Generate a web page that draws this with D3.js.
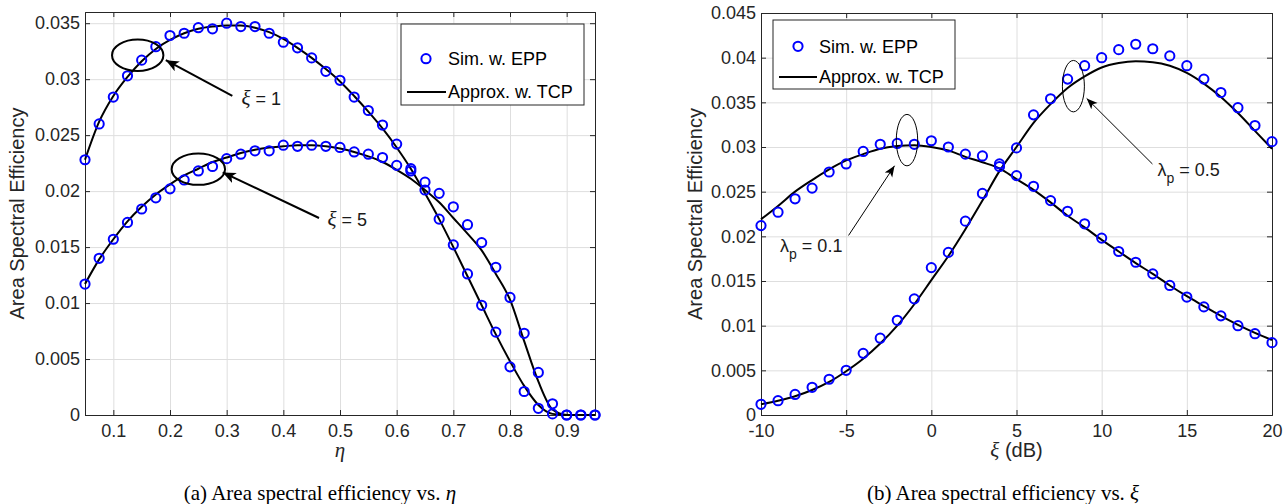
<!DOCTYPE html>
<html>
<head>
<meta charset="utf-8">
<script src="https://cdn.jsdelivr.net/npm/d3@7"></script>
<style>
    body { margin: 0; background: #fff; }
    svg text { font-family: "Liberation Sans", Arial, sans-serif; fill: #262626; }
</style>
</head>
<body>
<svg id="fig" width="1284" height="504"></svg>
<script>
/* Two-panel area spectral efficiency figure */

// ---- panel (a): ASE vs eta ----
const etaVals = [0.05, 0.075, 0.1, 0.125, 0.15, 0.175, 0.2, 0.225, 0.25, 0.275, 0.3, 0.325, 0.35, 0.375,
    0.4, 0.425, 0.45, 0.475, 0.5, 0.525, 0.55, 0.575, 0.6, 0.625, 0.65, 0.675, 0.7, 0.725, 0.75,
    0.775, 0.8, 0.825, 0.85, 0.875, 0.9, 0.925, 0.95];
const simXi1 = [0.0228, 0.0260, 0.0284, 0.0303, 0.0317, 0.0329, 0.0339, 0.0341, 0.0346, 0.0345, 0.0350,
    0.0347, 0.0347, 0.0341, 0.0333, 0.0328, 0.0319, 0.0307, 0.0299, 0.0284, 0.0272, 0.0259, 0.0242,
    0.0220, 0.0201, 0.0175, 0.0152, 0.0126, 0.0098, 0.0074, 0.0043, 0.0021, 0.0006, 0.0001, 0, 0, 0];
const simXi5 = [0.0117, 0.0140, 0.0157, 0.0172, 0.0184, 0.0194, 0.0202, 0.0210, 0.0218, 0.0222, 0.0229,
    0.0233, 0.0236, 0.0236, 0.0241, 0.0240, 0.0241, 0.0240, 0.0239, 0.0235, 0.0233, 0.0230, 0.0223,
    0.0218, 0.0208, 0.0198, 0.0186, 0.0170, 0.0154, 0.0132, 0.0105, 0.0073, 0.0038, 0.0010, 0, 0, 0];
const apxXi1 = [0.0228, 0.0262, 0.0285, 0.0302, 0.0316, 0.0327, 0.0335, 0.0341, 0.0345, 0.0347, 0.0348,
    0.0348, 0.0346, 0.0342, 0.0336, 0.0328, 0.0319, 0.0309, 0.0298, 0.0285, 0.0271, 0.0256, 0.0239,
    0.0220, 0.0198, 0.0175, 0.0150, 0.0124, 0.0098, 0.0072, 0.0048, 0.0026, 0.0009, 0.0001, 0, 0, 0];
const apxXi5 = [0.0117, 0.0139, 0.0157, 0.0173, 0.0186, 0.0197, 0.0206, 0.0214, 0.0220, 0.0226, 0.0230,
    0.0234, 0.0237, 0.0239, 0.0240, 0.0241, 0.0241, 0.0240, 0.0238, 0.0235, 0.0231, 0.0226, 0.0219,
    0.0211, 0.0201, 0.0190, 0.0176, 0.0162, 0.0147, 0.0126, 0.0103, 0.0066, 0.0030, 0.0005, 0, 0, 0];
const etaTicks = [0.1, 0.2, 0.3, 0.4, 0.5, 0.6, 0.7, 0.8, 0.9];
const aseTicksA = [0, 0.005, 0.01, 0.015, 0.02, 0.025, 0.03, 0.035];

// ---- panel (b): ASE vs xi (dB) ----
const xiVals = [-10, -9, -8, -7, -6, -5, -4, -3, -2, -1, 0, 1, 2, 3, 4, 5, 6, 7, 8, 9, 10,
    11, 12, 13, 14, 15, 16, 17, 18, 19, 20];
const simLp01 = [0.0212, 0.0227, 0.0242, 0.0254, 0.0272, 0.0281, 0.0295, 0.0303, 0.0304, 0.0303, 0.0307,
    0.0300, 0.0292, 0.0290, 0.0278, 0.0268, 0.0256, 0.0240, 0.0228, 0.0214, 0.0198, 0.0183, 0.0171,
    0.0158, 0.0145, 0.0132, 0.0121, 0.0111, 0.0100, 0.0091, 0.0081];
const simLp05 = [0.0012, 0.0016, 0.0023, 0.0031, 0.0040, 0.0050, 0.0069, 0.0086, 0.0106, 0.0130, 0.0165,
    0.0182, 0.0217, 0.0248, 0.0281, 0.0299, 0.0336, 0.0354, 0.0376, 0.0391, 0.0400, 0.0409, 0.0415,
    0.0410, 0.0402, 0.0391, 0.0376, 0.0361, 0.0344, 0.0324, 0.0306];
const apxLp01 = [0.0219, 0.0234, 0.0250, 0.0263, 0.0275, 0.0285, 0.0292, 0.0298, 0.0301, 0.0302, 0.0300,
    0.0296, 0.0289, 0.0283, 0.0276, 0.0264, 0.0252, 0.0238, 0.0223, 0.0210, 0.0196, 0.0183, 0.0170,
    0.0158, 0.0145, 0.0133, 0.0122, 0.0111, 0.0101, 0.0092, 0.0084];
const apxLp05 = [0.0012, 0.0016, 0.0021, 0.0028, 0.0037, 0.0049, 0.0063, 0.0080, 0.0100, 0.0124, 0.0151,
    0.0178, 0.0208, 0.0240, 0.0273, 0.0300, 0.0327, 0.0348, 0.0366, 0.0379, 0.0389, 0.0394, 0.0396,
    0.0395, 0.0391, 0.0383, 0.0371, 0.0356, 0.0338, 0.0318, 0.0298];
const xiTicks = [-10, -5, 0, 5, 10, 15, 20];
const aseTicksB = [0, 0.005, 0.01, 0.015, 0.02, 0.025, 0.03, 0.035, 0.04, 0.045];

const legendLabels = ['Sim. w. EPP', 'Approx. w. TCP'];

const AXIS_COLOR = '#262626';
const GRID_COLOR = '#dedede';
const SIM_COLOR = '#0000ff';
const SERIF = '"Liberation Serif", "Times New Roman", serif';

const svg = d3.select('#fig');

// arrow heads
const defs = svg.append('defs');
function addArrowHead(id, len, half) {
    defs.append('marker')
        .attr('id', id)
        .attr('markerUnits', 'userSpaceOnUse')
        .attr('markerWidth', len + 2)
        .attr('markerHeight', half * 2 + 2)
        .attr('viewBox', `0 ${-half - 1} ${len + 2} ${half * 2 + 2}`)
        .attr('refX', len)
        .attr('refY', 0)
        .attr('orient', 'auto')
        .append('path')
        .attr('d', `M0,${-half} L${len},0 L0,${half} L${len * 0.25},0 Z`)
        .attr('fill', '#000');
}
addArrowHead('headBig', 13, 5.5);
addArrowHead('headSmall', 11, 4.5);

function tickFmt(d) {
    return d === 0 ? '0' : String(+d.toFixed(3));
}

function drawPanel(cfg) {
    const width = cfg.x1 - cfg.x0;
    const height = cfg.y1 - cfg.y0;
    const g = svg.append('g').attr('transform', `translate(${cfg.x0},${cfg.y0})`);

    const x = d3.scaleLinear().domain(cfg.xDomain).range([0, width]);
    const y = d3.scaleLinear().domain(cfg.yDomain).range([height, 0]);

    // Grid
    g.append('g')
        .call(d3.axisBottom(x).tickValues(cfg.xTicks).tickSize(height).tickFormat(''))
        .call(s => s.select('.domain').remove())
        .selectAll('line').attr('stroke', GRID_COLOR);
    g.append('g')
        .call(d3.axisLeft(y).tickValues(cfg.yTicks).tickSize(-width).tickFormat(''))
        .call(s => s.select('.domain').remove())
        .selectAll('line').attr('stroke', GRID_COLOR);

    // Axes (inward ticks on all sides)
    const xb = g.append('g')
        .attr('transform', `translate(0,${height})`)
        .call(d3.axisBottom(x).tickValues(cfg.xTicks).tickSize(-5).tickPadding(9).tickFormat(cfg.xFmt));
    const yl = g.append('g')
        .call(d3.axisLeft(y).tickValues(cfg.yTicks).tickSize(-5).tickPadding(5).tickFormat(tickFmt));
    const xt = g.append('g')
        .call(d3.axisTop(x).tickValues(cfg.xTicks).tickSize(-5).tickFormat(''));
    const yr = g.append('g')
        .attr('transform', `translate(${width},0)`)
        .call(d3.axisRight(y).tickValues(cfg.yTicks).tickSize(-5).tickFormat(''));
    [xb, yl, xt, yr].forEach(a => {
        a.select('.domain').attr('stroke', AXIS_COLOR);
        a.selectAll('line').attr('stroke', AXIS_COLOR);
        a.selectAll('text').attr('font-size', 18).attr('fill', AXIS_COLOR);
    });

    // Approximation curves
    const line = d3.line()
        .x((d, i) => x(cfg.xs[i]))
        .y(d => y(d))
        .curve(d3.curveMonotoneX);
    cfg.apx.forEach(series => {
        g.append('path')
            .datum(series)
            .attr('d', line)
            .attr('fill', 'none')
            .attr('stroke', '#000')
            .attr('stroke-width', 2);
    });

    // Simulation markers
    cfg.sim.forEach(series => {
        g.append('g').selectAll('circle')
            .data(series)
            .join('circle')
            .attr('cx', (d, i) => x(cfg.xs[i]))
            .attr('cy', d => y(d))
            .attr('r', 4.6)
            .attr('fill', 'none')
            .attr('stroke', SIM_COLOR)
            .attr('stroke-width', 2);
    });

    // Annotations: ellipse + arrow + label
    cfg.notes.forEach(n => {
        g.append('ellipse')
            .attr('cx', x(n.ex)).attr('cy', y(n.ey))
            .attr('rx', n.rx).attr('ry', n.ry)
            .attr('fill', 'none')
            .attr('stroke', '#000')
            .attr('stroke-width', cfg.noteWidth);
        g.append('line')
            .attr('x1', x(n.fx)).attr('y1', y(n.fy))
            .attr('x2', x(n.tx)).attr('y2', y(n.ty))
            .attr('stroke', '#000')
            .attr('stroke-width', cfg.noteWidth)
            .attr('marker-end', `url(#${cfg.head})`);
        const t = g.append('text')
            .attr('x', x(n.lx)).attr('y', y(n.ly))
            .attr('font-size', 18)
            .style('fill', '#1a1a1a');
        n.parts.forEach(p => {
            const ts = t.append('tspan').text(p.text);
            if (p.italic) ts.style('font-family', SERIF).style('font-style', 'italic').attr('font-size', 21);
            if (p.sub) ts.attr('font-size', 14).attr('dy', 7);
            if (p.up) ts.attr('dy', -7);
        });
    });

    // Legend
    const L = cfg.legend;
    const lg = g.append('g').attr('transform', `translate(${L.x},${L.y})`);
    lg.append('rect')
        .attr('width', L.w).attr('height', L.h)
        .attr('fill', '#fff')
        .attr('stroke', AXIS_COLOR)
        .attr('stroke-width', 1);
    lg.append('circle')
        .attr('cx', L.markX).attr('cy', L.row1)
        .attr('r', 4.6)
        .attr('fill', 'none').attr('stroke', SIM_COLOR).attr('stroke-width', 2);
    lg.append('line')
        .attr('x1', L.lineX0).attr('x2', L.lineX1)
        .attr('y1', L.row2).attr('y2', L.row2)
        .attr('stroke', '#000').attr('stroke-width', 2);
    [L.row1, L.row2].forEach((ry, i) => {
        lg.append('text')
            .attr('x', L.textX).attr('y', ry)
            .attr('dy', '0.36em')
            .attr('font-size', 18)
            .style('fill', '#000')
            .text(legendLabels[i]);
    });

    // Axis labels
    g.append('text')
        .attr('transform', `translate(${cfg.yLabelX},${height / 2}) rotate(-90)`)
        .attr('text-anchor', 'middle')
        .attr('dy', '0.36em')
        .attr('font-size', 20)
        .text('Area Spectral Efficiency');

    const xl = g.append('text')
        .attr('x', width / 2)
        .attr('y', height + 42)
        .attr('text-anchor', 'middle')
        .attr('font-size', 20);
    cfg.xLabel.forEach(p => {
        const ts = xl.append('tspan').text(p.text);
        if (p.italic) ts.style('font-family', SERIF).style('font-style', 'italic').attr('font-size', 21);
    });

    // Caption
    const cap = svg.append('text')
        .attr('x', cfg.capX)
        .attr('y', 500)
        .attr('text-anchor', 'middle')
        .style('font-family', SERIF)
        .attr('font-size', 21)
        .style('fill', '#000');
    cap.append('tspan').text(cfg.caption);
    cap.append('tspan').style('font-style', 'italic').text(cfg.capSym);
}

drawPanel({
    x0: 85, x1: 595, y0: 12, y1: 415,
    xDomain: [0.05, 0.95], yDomain: [0, 0.036],
    xTicks: etaTicks, yTicks: aseTicksA,
    xFmt: d => String(d),
    xs: etaVals,
    sim: [simXi1, simXi5],
    apx: [apxXi1, apxXi5],
    noteWidth: 2, head: 'headBig',
    notes: [
        { ex: 0.143, ey: 0.03214, rx: 25.7, ry: 15.7, fx: 0.31, fy: 0.0285, tx: 0.1926, ty: 0.0317,
          lx: 0.326, ly: 0.0277, parts: [{ text: 'ξ', italic: true }, { text: ' = 1' }] },
        { ex: 0.250, ey: 0.02196, rx: 26.7, ry: 15.7, fx: 0.463, fy: 0.0176, tx: 0.293, ty: 0.02167,
          lx: 0.478, ly: 0.0169, parts: [{ text: 'ξ', italic: true }, { text: ' = 5' }] }
    ],
    legend: { x: 316, y: 12, w: 183, h: 81, markX: 25, row1: 34.7, row2: 68, lineX0: 6, lineX1: 45, textX: 47 },
    yLabelX: -68,
    xLabel: [{ text: 'η', italic: true }],
    capX: 320, caption: '(a)  Area spectral efficiency vs. ', capSym: 'η'
});

drawPanel({
    x0: 761, x1: 1272, y0: 13, y1: 415,
    xDomain: [-10, 20], yDomain: [0, 0.045],
    xTicks: xiTicks, yTicks: aseTicksB,
    xFmt: d => String(d),
    xs: xiVals,
    sim: [simLp01, simLp05],
    apx: [apxLp01, apxLp05],
    noteWidth: 1, head: 'headSmall',
    notes: [
        { ex: -1.43, ey: 0.03077, rx: 10.7, ry: 25.7, fx: -4.86, fy: 0.0201, tx: -2.16, ty: 0.0279,
          lx: -8.88, ly: 0.0182, parts: [{ text: 'λ' }, { text: 'p', sub: true }, { text: ' = 0.1', up: true }] },
        { ex: 8.34, ey: 0.03681, rx: 11, ry: 25.7, fx: 12.98, fy: 0.0281, tx: 9.12, ty: 0.03544,
          lx: 13.28, ly: 0.0267, parts: [{ text: 'λ' }, { text: 'p', sub: true }, { text: ' = 0.5', up: true }] }
    ],
    legend: { x: 12, y: 7, w: 182, h: 69, markX: 25, row1: 26.3, row2: 57, lineX0: 6, lineX1: 44, textX: 46 },
    yLabelX: -66,
    xLabel: [{ text: 'ξ', italic: true }, { text: ' (dB)' }],
    capX: 1003, caption: '(b)  Area spectral efficiency vs. ', capSym: 'ξ'
});
</script>
</body>
</html>
